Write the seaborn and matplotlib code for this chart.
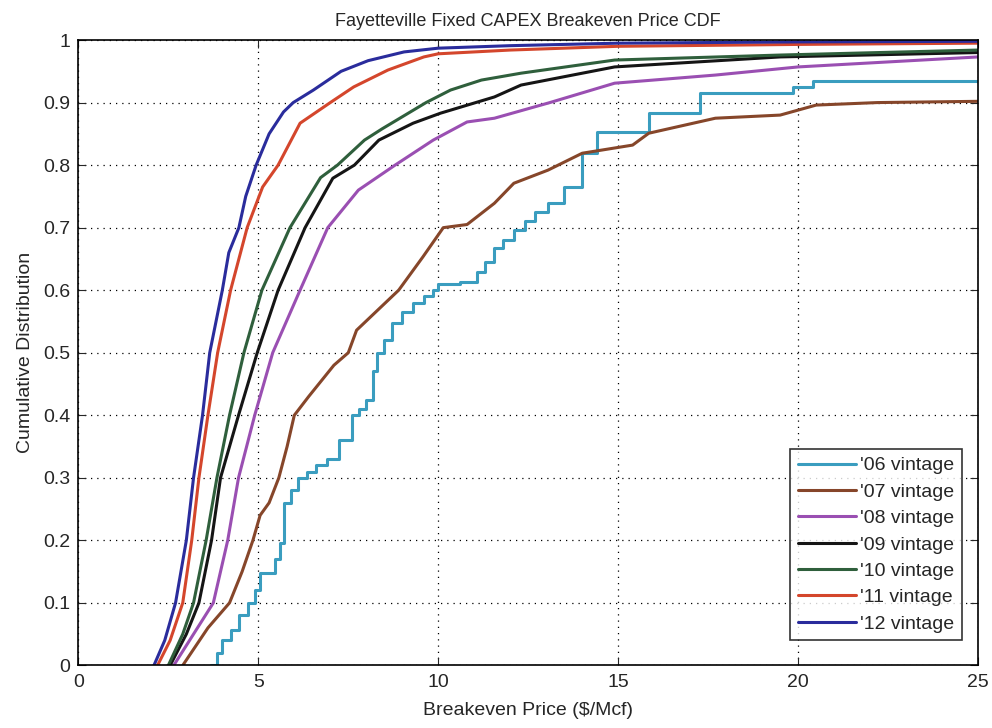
import pandas as pd
import matplotlib
matplotlib.use("Agg")
import matplotlib.pyplot as plt
import seaborn as sns

# points (breakeven price, cumulative share)
x06 = [3.68, 3.85, 4.0, 4.23, 4.45, 4.7, 4.9, 5.05, 5.45, 5.6, 5.72, 5.9, 6.1, 6.35, 6.6, 6.9,
       7.25, 7.6, 7.8, 8.0, 8.2, 8.3, 8.5, 8.72, 9.0, 9.3, 9.6, 9.86, 10.0, 10.6, 11.08, 11.3,
       11.56, 11.8, 12.1, 12.4, 12.7, 13.05, 13.5, 14.0, 14.4, 15.85, 17.27, 19.85, 20.4, 25.0]
y06 = [0.0, 0.02, 0.04, 0.056, 0.08, 0.1, 0.12, 0.148, 0.17, 0.195, 0.26, 0.28, 0.3, 0.31, 0.32, 0.33,
       0.36, 0.4, 0.41, 0.425, 0.47, 0.5, 0.52, 0.547, 0.565, 0.58, 0.59, 0.6, 0.61, 0.613, 0.629, 0.645,
       0.667, 0.68, 0.696, 0.71, 0.725, 0.739, 0.765, 0.819, 0.853, 0.883, 0.915, 0.925, 0.934, 0.934]

x07 = [2.9, 3.6, 4.2, 4.55, 4.85, 5.05, 5.3, 5.57, 5.8, 6.0, 6.4, 7.1, 7.5, 7.73, 8.9, 9.57, 10.14,
       10.8, 11.56, 12.1, 13.05, 14.0, 15.4, 15.85, 17.7, 19.5, 20.5, 22.2, 25.0]
y07 = [0.0, 0.06, 0.1, 0.15, 0.2, 0.24, 0.26, 0.3, 0.35, 0.4, 0.43, 0.48, 0.5, 0.536, 0.6, 0.653, 0.7,
       0.705, 0.739, 0.771, 0.792, 0.819, 0.832, 0.851, 0.875, 0.88, 0.896, 0.9, 0.902]

x08 = [2.65, 3.2, 3.75, 4.15, 4.45, 4.9, 5.4, 6.16, 6.93, 7.78, 8.8, 9.86, 10.8, 11.56, 13.1,
       14.9, 17.7, 20.0, 25.0]
y08 = [0.0, 0.05, 0.1, 0.2, 0.3, 0.4, 0.5, 0.6, 0.7, 0.76, 0.8, 0.84, 0.869, 0.875, 0.9,
       0.931, 0.944, 0.957, 0.973]

x09 = [2.55, 3.0, 3.35, 3.7, 3.95, 4.45, 4.97, 5.55, 6.3, 7.07, 7.67, 8.35, 9.3, 10.06, 11.56,
       12.3, 14.9, 19.5, 25.0]
y09 = [0.0, 0.05, 0.1, 0.2, 0.3, 0.4, 0.5, 0.6, 0.7, 0.779, 0.8, 0.84, 0.867, 0.883, 0.909,
       0.928, 0.957, 0.973, 0.98]

x10 = [2.5, 2.9, 3.2, 3.55, 3.85, 4.2, 4.6, 5.1, 5.88, 6.73, 7.2, 7.95, 8.44, 9.66, 10.34,
       11.2, 12.3, 14.9, 19.5, 25.0]
y10 = [0.0, 0.05, 0.1, 0.2, 0.3, 0.4, 0.5, 0.6, 0.7, 0.78, 0.8, 0.84, 0.858, 0.9, 0.92,
       0.936, 0.947, 0.968, 0.976, 0.984]

x11 = [2.2, 2.55, 2.9, 3.15, 3.35, 3.6, 3.87, 4.23, 4.69, 5.12, 5.55, 6.16, 7.0, 7.65, 8.6,
       9.6, 10.0, 12.0, 15.0, 20.0, 25.0]
y11 = [0.0, 0.04, 0.1, 0.2, 0.3, 0.4, 0.5, 0.6, 0.7, 0.765, 0.8, 0.867, 0.9, 0.925, 0.952,
       0.973, 0.978, 0.984, 0.99, 0.993, 0.995]

x12 = [2.1, 2.4, 2.7, 3.0, 3.2, 3.45, 3.65, 4.0, 4.18, 4.46, 4.65, 4.94, 5.3, 5.7, 5.97, 6.53,
       7.3, 8.05, 9.05, 10.0, 12.0, 15.0, 20.0, 25.0]
y12 = [0.0, 0.04, 0.1, 0.2, 0.3, 0.4, 0.5, 0.6, 0.66, 0.7, 0.75, 0.8, 0.85, 0.885, 0.9, 0.92,
       0.95, 0.967, 0.981, 0.987, 0.991, 0.995, 0.997, 0.998]

labels = ["'06 vintage", "'07 vintage", "'08 vintage", "'09 vintage",
          "'10 vintage", "'11 vintage", "'12 vintage"]
colors = ["#3a9dbf", "#86462a", "#9a4fb2", "#151515", "#2f5f3c", "#d4462c", "#2a2c9c"]

series = [(x06, y06), (x07, y07), (x08, y08), (x09, y09), (x10, y10), (x11, y11), (x12, y12)]

sns.set_style("white")
plt.rcParams['font.family'] = ['Liberation Sans', 'DejaVu Sans']

fig = plt.figure(figsize=(9.92, 7.28), dpi=100)
ax = fig.add_axes([0.079, 0.086, 0.907, 0.859])

for (xs, ys), lab, col in zip(series, labels, colors):
    df = pd.DataFrame({"price": xs, "cdf": ys})
    style = "steps-post" if lab.startswith("'06") else "default"
    sns.lineplot(data=df, x="price", y="cdf", ax=ax, color=col, label=lab,
                 linewidth=2.2, estimator=None, sort=False, drawstyle=style)

ax.set_xlim(0, 25)
ax.set_ylim(0, 1)
ax.set_xticks([0, 5, 10, 15, 20, 25])
ax.set_yticks([0, 0.1, 0.2, 0.3, 0.4, 0.5, 0.6, 0.7, 0.8, 0.9, 1])
ax.set_yticklabels(["0", "0.1", "0.2", "0.3", "0.4", "0.5", "0.6", "0.7", "0.8", "0.9", "1"])
ax.grid(True, linestyle=(0, (1, 4)), color="black", linewidth=0.9)
ax.tick_params(direction="in", length=6, labelsize=14, top=True, right=True,
               bottom=True, left=True, pad=6)
for sp in ax.spines.values():
    sp.set_color("black")
    sp.set_linewidth(1.2)

ax.set_xlabel("Breakeven Price ($/Mcf)", fontsize=14, labelpad=8)
ax.set_ylabel("Cumulative Distribution", fontsize=14, labelpad=6)
ax.set_title("Fayetteville Fixed CAPEX Breakeven Price CDF", fontsize=13, pad=10)

leg = ax.legend(loc="lower right", bbox_to_anchor=(0.982, 0.04), fontsize=14,
                handlelength=3.0, frameon=True, fancybox=False, borderpad=0.4,
                labelspacing=0.45, handletextpad=0.2, borderaxespad=0)
leg.get_frame().set_edgecolor("black")
leg.get_frame().set_linewidth(1.2)

plt.savefig("out.png", dpi=100)
